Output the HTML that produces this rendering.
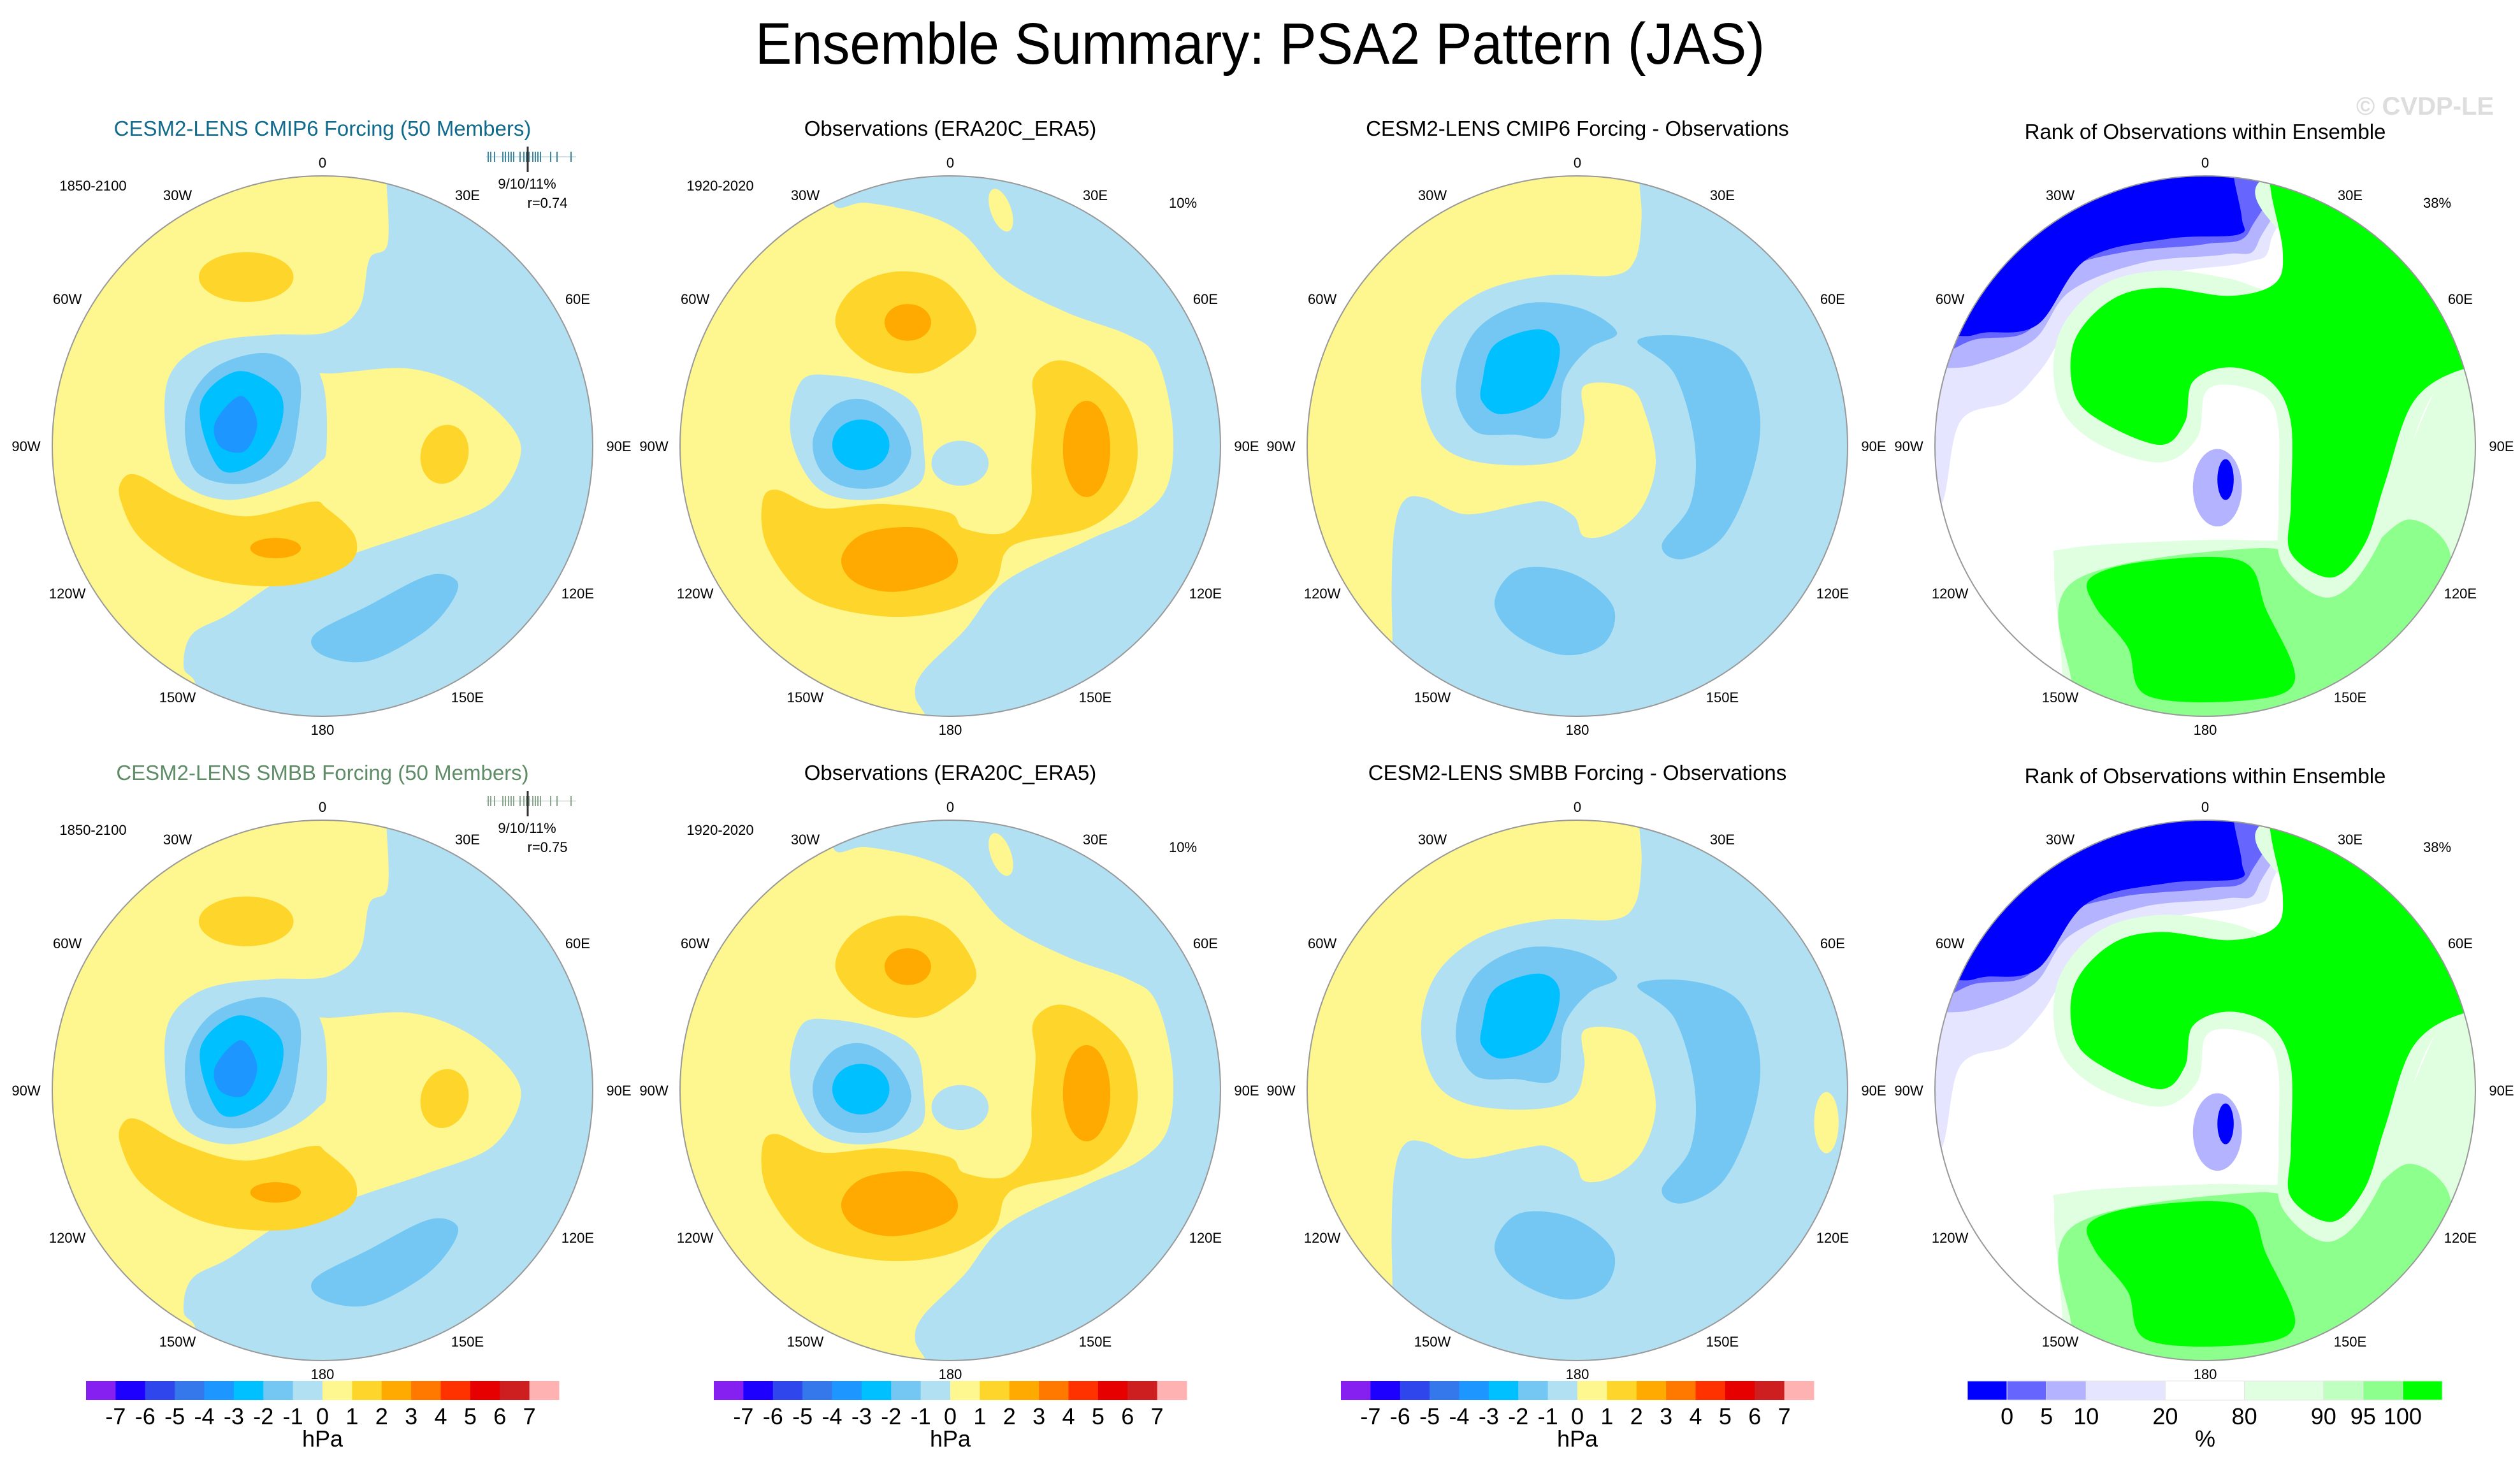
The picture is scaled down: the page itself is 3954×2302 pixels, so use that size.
<!DOCTYPE html>
<html><head><meta charset="utf-8">
<style>
html,body{margin:0;padding:0;background:#fff;}
svg{display:block;font-family:"Liberation Sans",Arial,sans-serif;}
</style></head>
<body>
<svg id="fig" width="3954" height="2302" viewBox="0 0 3954 2302" xmlns="http://www.w3.org/2000/svg">
<rect x="0" y="0" width="3954" height="2302" fill="#fff"/>
<text x="1977" y="100" font-size="92" text-anchor="middle" textLength="1584" lengthAdjust="spacingAndGlyphs" fill="#000">Ensemble Summary: PSA2 Pattern (JAS)</text>
<text x="3805" y="180" font-size="40" font-weight="bold" text-anchor="middle" fill="#dddddd">© CVDP-LE</text>
<g id="panels"></g>
<g id="bars"></g>
</svg>
<script>
// ---- colour scales (data) ----
const hpaColors = ['#8520f0','#1e00ff','#2e46eb','#3578eb','#1e96ff','#00c0ff','#73c7f2','#b2e0f3','#fef68e','#fed52a','#ffaa00','#ff7800','#ff3200','#e60000','#cd1f1f','#ffb2b2'];
const hpaLabels = ['-7','-6','-5','-4','-3','-2','-1','0','1','2','3','4','5','6','7'];
const rankColors = ['#0000ff','#6666ff','#b3b3ff','#e5e5ff','#ffffff','#e0ffe0','#bfffbf','#8cff8c','#00ff00'];
const rankWidths = [1,1,1,2,2,2,1,1,1];
const rankLabels = ['0','5','10','20','80','90','95','100'];
const lonLabels = ['0','30E','60E','90E','120E','150E','180','150W','120W','90W','60W','30W'];
const colCenters = [506,1491,2475,3460];
const rowCenters = [700,1711];
const titlesRow1 = ['CESM2-LENS CMIP6 Forcing (50 Members)','Observations (ERA20C_ERA5)','CESM2-LENS CMIP6 Forcing - Observations','Rank of Observations within Ensemble'];
const titlesRow2 = ['CESM2-LENS SMBB Forcing (50 Members)','Observations (ERA20C_ERA5)','CESM2-LENS SMBB Forcing - Observations','Rank of Observations within Ensemble'];
const titleColors = [['#0f6a8b','#000','#000','#000'],['#5e8c66','#000','#000','#000']];
const stripR = ['9/10/11%','r=0.74','r=0.75'];

// contour regions, in map units (radius = 662)
const P1 = [
 {c:'#fef68e',p:[[-750,-750],[155,-750],[155,-680],[160,-498],[115,-458],[90,-338],[10,-278],[-140,-268],[-60,-200],[10,-178],[210,-190],[360,-138],[470,-38],[480,42],[410,142],[260,202],[110,252],[-90,322],[-230,412],[-320,462],[-340,542],[-310,592],[-330,750],[-750,750]]},
 {c:'#fed52a',e:[-187,-414,116,61,0]},
 {c:'#fed52a',e:[299,20,58,73,15]},
 {c:'#fed52a',p:[[-490,82],[-450,72],[-340,132],[-190,172],[-30,137],[10,152],[80,222],[60,292],[-90,342],[-290,322],[-440,232],[-495,132]]},
 {c:'#ffaa00',e:[-115,250,62,25,0]},
 {c:'#b2e0f3',p:[[-380,-158],[-310,-238],[-190,-268],[-70,-258],[0,-158],[10,2],[-10,42],[-90,97],[-230,132],[-340,92],[-380,-8]]},
 {c:'#73c7f2',p:[[-335,-78],[-270,-188],[-140,-228],[-60,-178],[-60,-58],[-90,42],[-190,92],[-310,62]]},
 {c:'#00c0ff',p:[[-300,-98],[-210,-183],[-110,-138],[-100,-58],[-150,32],[-250,57]]},
 {c:'#1e96ff',p:[[-263,-58],[-200,-123],[-160,-58],[-190,12],[-250,2]]},
 {c:'#73c7f2',p:[[-20,462],[110,392],[260,317],[330,332],[310,392],[240,462],[110,527],[0,512]]}
];
const P2 = [
 {c:'#fef68e',p:[[-286,-750],[-286,-593],[-206,-596],[-66,-568],[34,-518],[134,-408],[284,-328],[434,-273],[504,-218],[544,-58],[534,92],[464,172],[334,232],[134,332],[34,452],[-66,552],[-86,612],[-56,672],[-56,750],[-750,750],[-750,-750]]},
 {c:'#fef68e',e:[124,-578,25,55,-20]},
 {c:'#fed52a',p:[[-281,-298],[-236,-388],[-126,-428],[-6,-398],[64,-283],[-6,-208],[-86,-178],[-206,-208]]},
 {c:'#ffaa00',e:[-104,-303,57,45,0]},
 {c:'#fed52a',p:[[204,-168],[264,-210],[354,-178],[434,-98],[459,22],[424,132],[334,202],[184,232],[134,262],[104,342],[-6,402],[-166,417],[-346,372],[-446,252],[-461,142],[-426,107],[-316,152],[-166,142],[-6,162],[34,202],[134,212],[194,142],[199,42],[209,-78]]},
 {c:'#ffaa00',e:[334,7,58,118,0]},
 {c:'#ffaa00',p:[[-266,272],[-206,212],[-66,202],[14,262],[-6,322],[-136,357],[-236,332]]},
 {c:'#b2e0f3',p:[[-391,-28],[-366,-158],[-286,-173],[-166,-148],[-86,-98],[-66,-8],[-76,92],[-206,132],[-326,102]]},
 {c:'#b2e0f3',e:[24,42,70,55,0]},
 {c:'#73c7f2',p:[[-336,-18],[-286,-98],[-206,-113],[-126,-58],[-96,22],[-146,92],[-246,102],[-316,62]]},
 {c:'#00c0ff',e:[-219,-3,70,62,0]}
];
const P3 = [
 {c:'#fef68e',p:[[152,-750],[152,-648],[157,-558],[142,-458],[87,-418],[-73,-418],[-233,-378],[-343,-288],[-383,-158],[-353,-28],[-273,32],[-123,47],[-13,22],[17,-58],[17,-148],[127,-143],[167,-78],[192,42],[157,152],[87,212],[17,222],[-8,172],[-73,137],[-133,142],[-273,167],[-373,127],[-423,132],[-448,202],[-455,342],[-453,482],[-453,750],[-750,750],[-750,-750]]},
 {c:'#73c7f2',p:[[-298,-138],[-253,-278],[-133,-348],[7,-338],[97,-278],[27,-238],[-33,-158],[-53,-28],[-153,-28],[-253,-38]]},
 {c:'#00c0ff',p:[[-233,-158],[-203,-248],[-93,-286],[-43,-238],[-83,-118],[-183,-78],[-233,-108]]},
 {c:'#73c7f2',p:[[147,-258],[277,-268],[397,-218],[447,-78],[427,72],[357,222],[257,277],[207,242],[277,142],[287,-8],[237,-178]]},
 {c:'#73c7f2',p:[[-203,382],[-143,302],[-13,312],[87,392],[67,482],[-33,512],[-153,462]]}
];
const P4 = [
 {c:'#e5e5ff',p:[[-750,-750],[160,-750],[160,-500],[100,-450],[-100,-420],[-300,-330],[-400,-190],[-480,-110],[-600,-60],[-650,150],[-750,150]]},
 {c:'#b3b3ff',p:[[-750,-750],[150,-750],[130,-500],[50,-470],[-150,-450],[-330,-380],[-420,-260],[-560,-200],[-650,-190],[-750,-180]]},
 {c:'#6666ff',p:[[-750,-750],[115,-750],[110,-530],[0,-495],[-200,-475],[-350,-425],[-430,-285],[-560,-262],[-750,-235]]},
 {c:'#0000ff',p:[[-750,-750],[70,-750],[70,-663],[90,-558],[80,-518],[-90,-508],[-290,-458],[-410,-298],[-540,-278],[-600,-270],[-750,-290]]},
 {c:'#e0ffe0',p:[[-330,250],[0,230],[200,230],[400,200],[600,-200],[750,-250],[750,750],[-400,750],[-350,600],[-370,300]]},
 {c:'#8cff8c',p:[[130,250],[330,300],[500,180],[600,300],[400,560],[250,640],[-250,700],[-330,560],[-320,330]]},
 {c:'#e0ffe0',p:[[150,-660],[220,-470],[200,-370],[60,-410],[-110,-430],[-260,-390],[-360,-270],[-360,-110],[-270,-10],[-110,40],[-20,-20],[0,-130],[60,-150],[150,-120],[180,-40],[180,150],[190,290],[310,370],[430,230],[560,-130],[750,-230],[750,-750]]},
 {c:'#00ff00',p:[[160,-750],[160,-633],[190,-478],[170,-398],[60,-368],[-110,-388],[-230,-358],[-320,-258],[-320,-128],[-250,-58],[-110,-3],[-50,-58],[-30,-158],[60,-193],[160,-158],[210,-58],[210,142],[210,262],[310,322],[390,242],[440,92],[510,-108],[630,-188],[750,-188],[750,-750]]},
 {c:'#00ff00',p:[[-280,322],[-140,282],[90,282],[150,402],[220,572],[110,622],[-140,612],[-190,492],[-270,392]]},
 {c:'#b3b3ff',e:[30,102,60,95,0]},
 {c:'#0000ff',e:[50,82,20,50,0]}
];
const P3b = P3.concat([{c:'#fef68e',e:[610,79,30,75,0]}]);
const panelData = [[P1,P2,P3,P4],[P1,P2,P3b,P4]];

const NS='http://www.w3.org/2000/svg';
const K = 424/662;
function mk(tag,attrs,parent){const e=document.createElementNS(NS,tag);for(const k in attrs)e.setAttribute(k,attrs[k]);if(parent)parent.appendChild(e);return e;}
function smoothPath(pts){
  const n=pts.length;const P=pts.map(p=>[p[0]*K,p[1]*K]);
  let d='M'+P[0][0].toFixed(1)+' '+P[0][1].toFixed(1);
  for(let i=0;i<n;i++){
    const p0=P[(i-1+n)%n],p1=P[i],p2=P[(i+1)%n],p3=P[(i+2)%n];
    const c1=[p1[0]+(p2[0]-p0[0])/6,p1[1]+(p2[1]-p0[1])/6];
    const c2=[p2[0]-(p3[0]-p1[0])/6,p2[1]-(p3[1]-p1[1])/6];
    d+=' C'+c1[0].toFixed(1)+' '+c1[1].toFixed(1)+' '+c2[0].toFixed(1)+' '+c2[1].toFixed(1)+' '+p2[0].toFixed(1)+' '+p2[1].toFixed(1);
  }
  return d+'Z';
}
const panels=document.getElementById('panels');
const defs=mk('defs',{},panels);
for(let r=0;r<2;r++){
 for(let c=0;c<4;c++){
  const cx=colCenters[c],cy=rowCenters[r];
  const g=mk('g',{transform:'translate('+cx+','+cy+')'},panels);
  
  
  const cid='clip'+r+c;
  const cp=mk('clipPath',{id:cid},defs);mk('circle',{cx:0,cy:0,r:424},cp);
  const base=mk('circle',{cx:0,cy:0,r:424,fill:c===3?'#ffffff':'#b2e0f3'},g);
  
  
  const lg=mk('g',{'clip-path':'url(#'+cid+')'},g);
  panelData[r][c].forEach((L,i)=>{
    let el;
    if(L.e){el=mk('ellipse',{cx:L.e[0]*K,cy:L.e[1]*K,rx:L.e[2]*K,ry:L.e[3]*K,transform:'rotate('+L.e[4]+' '+(L.e[0]*K)+' '+(L.e[1]*K)+')',fill:L.c},lg);}
    else{el=mk('path',{d:smoothPath(L.p),fill:L.c},lg);}
    
    
  });
  const ring=mk('circle',{cx:0,cy:0,r:424,fill:'none',stroke:'#999','stroke-width':2},g);
  
  
  lonLabels.forEach((t,i)=>{
    const a=i*30*Math.PI/180;const rr=445+Math.abs(Math.sin(a))*20;
    const tx=mk('text',{x:(Math.sin(a)*rr).toFixed(1),y:(-Math.cos(a)*rr+8).toFixed(1),'font-size':22,'text-anchor':'middle',fill:'#000'},g);
    tx.textContent=t;
    
    
  });
  const titles=r===0?titlesRow1:titlesRow2;
  const tt=mk('text',{x:0,y:c===3?-482:-482-5,'font-size':33,'text-anchor':'middle',fill:titleColors[r][c]},g);
  tt.textContent=titles[c];
  
  
  if(c<2){
    const yr=mk('text',{x:c===0?-360:-361,y:-401,'font-size':22,'text-anchor':'middle',fill:'#000'},g);
    yr.textContent=c===0?'1850-2100':'1920-2020';
    
    
  }
  if(c===0){
    const col=r===0?'#3d8aa0':'#8aa890';
    const s=mk('g',{},g);
    
    
    mk('line',{x1:257,y1:-454,x2:398,y2:-454,stroke:col,'stroke-width':1,opacity:0.5},s);
    const ticks=[260,264,270,283,287,292,296,300,310,316,320,324,330,334,338,342,358,368,390];
    ticks.forEach(x=>mk('line',{x1:x,y1:-462,x2:x,y2:-446,stroke:col,'stroke-width':2},s));
    mk('line',{x1:322,y1:-470,x2:322,y2:-430,stroke:'#333','stroke-width':3},s);
    const a1=mk('text',{x:321,y:-404,'font-size':22,'text-anchor':'middle'},g);a1.textContent=stripR[0];
    
    const a2=mk('text',{x:353,y:-374,'font-size':22,'text-anchor':'middle'},g);a2.textContent=stripR[r+1];
    
  }
  if(c===1||c===3){
    const p=mk('text',{x:c===1?365:364,y:-374,'font-size':22,'text-anchor':'middle'},g);
    p.textContent=c===1?'10%':'38%';
    
    
  }
 }
}
// colour bars
const bars=document.getElementById('bars');
for(let c=0;c<3;c++){
  const g=mk('g',{},bars);
  
  
  const x0=colCenters[c]-371,w=742/hpaColors.length;
  hpaColors.forEach((col,i)=>{const b=mk('rect',{x:x0+i*w,y:2167,width:w+0.5,height:30,fill:col},g);
    });
  hpaLabels.forEach((t,i)=>{const tx=mk('text',{x:x0+(i+1)*w,y:2235,'font-size':36,'text-anchor':'middle',transform:'',fill:'#000'},g);tx.textContent=t;
    });
  const u=mk('text',{x:colCenters[c],y:2270,'font-size':36,'text-anchor':'middle'},g);u.textContent='hPa';
  
}
{
  const g=mk('g',{},bars);
  
  
  const x0=3087,total=rankWidths.reduce((a,b)=>a+b,0),unit=745/total;
  let x=x0;const bounds=[];
  rankColors.forEach((col,i)=>{const b=mk('rect',{x:x,y:2167,width:rankWidths[i]*unit,height:30,fill:col,stroke:'#e6e6e6','stroke-width':1},g);
    
    x+=rankWidths[i]*unit;bounds.push(x);});
  rankLabels.forEach((t,i)=>{const tx=mk('text',{x:bounds[i],y:2235,'font-size':36,'text-anchor':'middle'},g);tx.textContent=t;
    });
  const u=mk('text',{x:3460,y:2270,'font-size':36,'text-anchor':'middle'},g);u.textContent='%';
  
}
</script>
</body></html>
